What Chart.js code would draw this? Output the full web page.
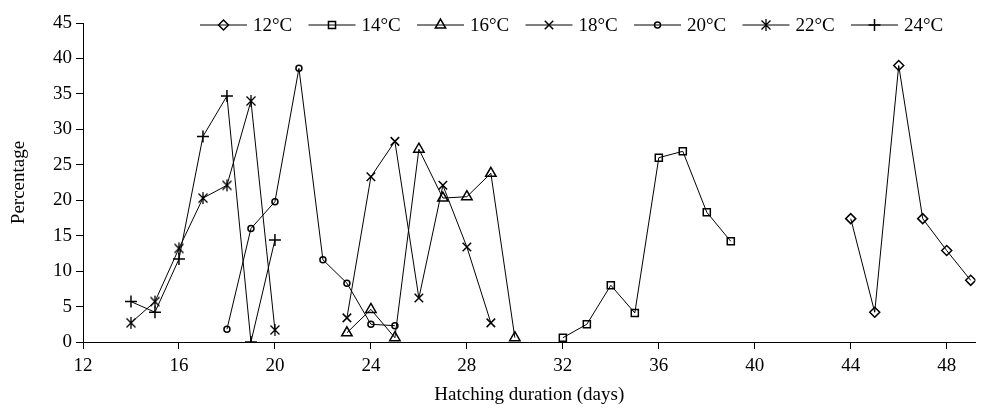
<!DOCTYPE html>
<html>
<head>
<meta charset="utf-8">
<script src="https://cdn.jsdelivr.net/npm/chart.js@4.4.1/dist/chart.umd.min.js"></script>
<style>
  html, body { margin: 0; padding: 0; background: #fff; }
  #wrap { width: 983px; height: 410px; position: relative; }
</style>
</head>
<body>
<div id="wrap"><canvas id="chart"></canvas></div>
<script>
// ── Data ───────────────────────────────────────────────────
const SERIES_NAMES = ['12°C', '14°C', '16°C', '18°C', '20°C', '22°C', '24°C'];

const DAYS_12 = [44, 45, 46, 47, 48, 49];
const PCT_12  = [17.4, 4.2, 39.0, 17.4, 12.9, 8.7];

const DAYS_14 = [32, 33, 34, 35, 36, 37, 38, 39];
const PCT_14  = [0.6, 2.5, 8.0, 4.1, 26.0, 26.9, 18.3, 14.2];

const DAYS_16 = [23, 24, 25, 26, 27, 28, 29, 30];
const PCT_16  = [1.3, 4.6, 0.6, 27.2, 20.3, 20.5, 23.8, 0.6];

const DAYS_18 = [23, 24, 25, 26, 27, 28, 29];
const PCT_18  = [3.4, 23.3, 28.3, 6.2, 22.1, 13.4, 2.7];

const DAYS_20 = [18, 19, 20, 21, 22, 23, 24, 25];
const PCT_20  = [1.8, 16.0, 19.8, 38.6, 11.6, 8.3, 2.5, 2.3];

const DAYS_22 = [14, 15, 16, 17, 18, 19, 20];
const PCT_22  = [2.7, 5.7, 13.2, 20.3, 22.1, 34.0, 1.7];

const DAYS_24 = [14, 15, 16, 17, 18, 19, 20];
const PCT_24  = [5.7, 4.2, 11.7, 29.0, 34.7, 0.0, 14.4];

const X_TICKS = [12, 16, 20, 24, 28, 32, 36, 40, 44, 48];
const Y_TICKS = [0, 5, 10, 15, 20, 25, 30, 35, 40, 45];

// ── Helpers ────────────────────────────────────────────────
const FONT = "'Liberation Serif', 'Times New Roman', serif";

// asterisk marker: X plus a vertical bar (Excel style)
function makeAsterisk(r) {
  const c = document.createElement('canvas');
  const s = 2 * r + 2;
  c.width = c.height = s;
  const g = c.getContext('2d');
  const m = s / 2, d = r * 0.75;
  g.strokeStyle = '#000';
  g.lineWidth = 1.3;
  g.beginPath();
  g.moveTo(m - d, m - d); g.lineTo(m + d, m + d);
  g.moveTo(m + d, m - d); g.lineTo(m - d, m + d);
  g.moveTo(m, m - r);     g.lineTo(m, m + r);
  g.stroke();
  return c;
}

const toXY = (xs, ys) => xs.map((x, i) => ({ x, y: ys[i] }));

const MARKERS = [
  { style: 'rectRot',  radius: 5 },
  { style: 'rect',     radius: 5 },
  { style: 'triangle', radius: 6 },
  { style: 'crossRot', radius: 6 },
  { style: 'circle',   radius: 3 },
  { style: makeAsterisk(6), radius: 6 },
  { style: 'cross',    radius: 6 },
];

const SERIES_DATA = [
  toXY(DAYS_12, PCT_12), toXY(DAYS_14, PCT_14), toXY(DAYS_16, PCT_16),
  toXY(DAYS_18, PCT_18), toXY(DAYS_20, PCT_20), toXY(DAYS_22, PCT_22),
  toXY(DAYS_24, PCT_24),
];

const datasets = SERIES_NAMES.map((name, i) => ({
  label: name,
  data: SERIES_DATA[i],
  showLine: true,
  borderColor: '#000',
  borderWidth: 1,
  backgroundColor: 'rgba(0,0,0,0)',
  pointStyle: MARKERS[i].style,
  pointRadius: MARKERS[i].radius,
  pointBorderWidth: 1.5,
  pointBorderColor: '#000',
  pointBackgroundColor: 'rgba(0,0,0,0)',
}));

// ── Legend: line – marker – line, then label ───────────────
const lineLegend = {
  id: 'lineLegend',
  afterDraw(chart) {
    const ctx = chart.ctx;
    const y = 25, startX = 200, step = 108.5, segW = 47;
    ctx.save();
    ctx.font = `19px ${FONT}`;
    ctx.textBaseline = 'middle';
    chart.data.datasets.forEach((ds, i) => {
      const x0 = startX + i * step;
      ctx.strokeStyle = '#000';
      ctx.lineWidth = 1;
      ctx.beginPath();
      ctx.moveTo(x0, y);
      ctx.lineTo(x0 + segW, y);
      ctx.stroke();
      ctx.lineWidth = 1.5;
      ctx.fillStyle = 'rgba(0,0,0,0)';
      Chart.helpers.drawPoint(ctx, {
        pointStyle: ds.pointStyle, radius: ds.pointRadius, borderWidth: 1.5, rotation: 0,
      }, x0 + segW / 2, y);
      ctx.fillStyle = '#000';
      ctx.fillText(ds.label, x0 + segW + 6, y + 1);
    });
    ctx.restore();
  },
};

// ── Chart ──────────────────────────────────────────────────
new Chart(document.getElementById('chart'), {
  type: 'scatter',
  data: { datasets },
  plugins: [lineLegend],
  options: {
    responsive: true,
    maintainAspectRatio: false,
    animation: false,
    layout: { padding: { top: 23, right: 0, bottom: 0, left: 0 } },
    plugins: {
      legend: { display: false },
      tooltip: { enabled: false },
    },
    scales: {
      x: {
        type: 'linear',
        min: 12,
        max: 49.2,
        afterBuildTicks: s => { s.ticks = X_TICKS.map(v => ({ value: v })); },
        afterFit: s => { s.height = 68; },
        border: { color: '#000', width: 1 },
        grid: { drawOnChartArea: false, drawTicks: true, tickLength: 7, color: '#000' },
        ticks: { color: '#000', padding: 6, maxRotation: 0, font: { family: FONT, size: 19 } },
        title: {
          display: true,
          text: 'Hatching duration (days)',
          color: '#000',
          padding: { top: 0, bottom: 4 },
          font: { family: FONT, size: 19 },
        },
      },
      y: {
        min: 0,
        max: 45,
        afterBuildTicks: s => { s.ticks = Y_TICKS.map(v => ({ value: v })); },
        afterFit: s => { s.width = 83; },
        border: { color: '#000', width: 1 },
        grid: { drawOnChartArea: false, drawTicks: true, tickLength: 7, color: '#000' },
        ticks: { color: '#000', padding: 4, font: { family: FONT, size: 19 } },
        title: {
          display: true,
          text: 'Percentage',
          color: '#000',
          padding: { top: 8, bottom: 0 },
          font: { family: FONT, size: 19 },
        },
      },
    },
  },
});
</script>
</body>
</html>
